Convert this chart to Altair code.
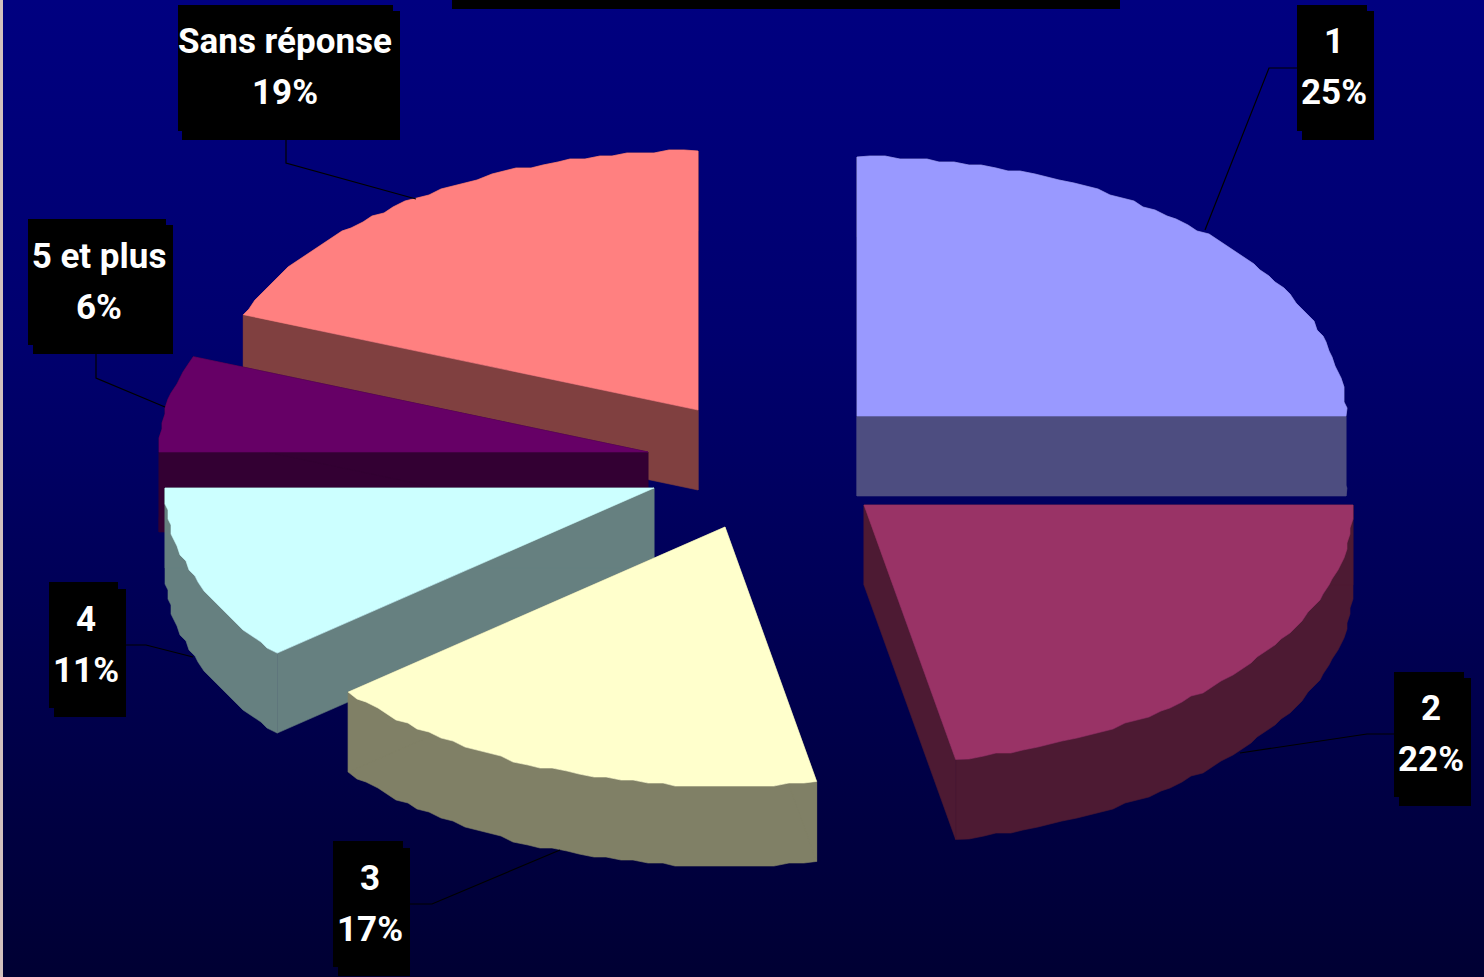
import math
import altair as alt
import pandas as pd

# Survey answers and their shares, in pie order (clockwise from the top)
categories = ["1", "2", "3", "4", "5 et plus", "Sans réponse"]
shares = [25, 22, 17, 11, 6, 19]

top_colors = ["#9999FF", "#993366", "#FFFFCC", "#CCFFFF", "#660066", "#FF8080"]
side_colors = ["#4D4D80", "#4D1A33", "#808066", "#668080", "#330033", "#804040"]

# Exploded position of each wedge's tip on the page
wedge_tips = [(857, 416), (864, 505), (725, 527), (654, 488), (648, 452), (698, 410)]
draw_order = [5, 4, 3, 2, 0, 1]

RX, RY, DEPTH = 489, 259, 80
RIM_STEP = 3  # the rim is snapped to a small grid, which gives it a scalloped edge

# Callout boxes: front box and offset backing box
label_boxes = [
    ((1297, 5, 1367, 131), (1302, 11, 1374, 140)),
    ((1394, 672, 1464, 797), (1399, 678, 1471, 806)),
    ((333, 841, 403, 967), (338, 848, 410, 976)),
    ((49, 582, 118, 708), (54, 589, 126, 717)),
    ((28, 219, 166, 345), (33, 225, 173, 354)),
    ((178, 5, 393, 131), (182, 11, 400, 140)),
]
label_centers = [(1334, 53), (1431, 720), (370, 890), (86, 631), (99, 268), (285, 53)]
LINE_GAP = 51
leaders = [
    [(1297, 68), (1269, 68), (1205, 230)],
    [(1394, 734), (1367, 734), (1240, 753)],
    [(410, 904), (432, 904), (560, 850)],
    [(126, 645), (146, 645), (193, 657)],
    [(96, 354), (96, 378), (165, 407)],
    [(286, 140), (286, 163), (416, 199)],
]

W, H = 1484, 977
x_scale = alt.Scale(domain=[0, W], nice=False, zero=False)
y_scale = alt.Scale(domain=[H, 0], nice=False, zero=False)
X = alt.X("x:Q", scale=x_scale, axis=None)
Y = alt.Y("y:Q", scale=y_scale, axis=None)


def rect_layer(box, fill):
    x0, y0, x1, y1 = box
    df = pd.DataFrame([{"x": x0, "x2": x1, "y": y0, "y2": y1}])
    return alt.Chart(df).mark_rect(fill=fill).encode(x=X, x2="x2:Q", y=Y, y2="y2:Q")


def polygon_layer(points, fill):
    df = pd.DataFrame(
        [{"x": px, "y": py, "i": i} for i, (px, py) in enumerate(points + points[:1])]
    )
    return (
        alt.Chart(df)
        .mark_line(color=fill, fill=fill, strokeWidth=0.6, interpolate="linear")
        .encode(x=X, y=Y, order="i:Q")
    )


def rim_points(tip, start, end):
    tx, ty = tip
    n = max(4, int((end - start) * 220))
    pts = []
    for k in range(n + 1):
        t = start + (end - start) * k / n
        a = 2 * math.pi * t
        px = tx + RX * math.sin(a)
        py = ty - RY * math.cos(a)
        if 0 < k < n:
            px = round(px / RIM_STEP) * RIM_STEP
            py = round(py / RIM_STEP) * RIM_STEP
        pts.append((px, py))
    return pts


# Page background, stray margin strip and the bar along the top edge
background = pd.DataFrame([{"x": 0, "x2": W, "y": 0, "y2": H}])
layers = [
    alt.Chart(background)
    .mark_rect(
        fill={
            "gradient": "linear",
            "x1": 0,
            "y1": 0,
            "x2": 0,
            "y2": 1,
            "stops": [
                {"offset": 0, "color": "#000080"},
                {"offset": 0.35, "color": "#00006E"},
                {"offset": 1, "color": "#000033"},
            ],
        }
    )
    .encode(x=X, x2="x2:Q", y=Y, y2="y2:Q"),
    rect_layer((0, 0, 3, H), "#D2C0BE"),
    rect_layer((452, 0, 1120, 9), "#000000"),
]

# Wedge angles accumulate from the shares
starts = [sum(shares[:i]) / 100 for i in range(len(shares))]
ends = [sum(shares[: i + 1]) / 100 for i in range(len(shares))]

for idx in draw_order:
    tip = wedge_tips[idx]
    rim = rim_points(tip, starts[idx], ends[idx])
    low = lambda p: (p[0], p[1] + DEPTH)
    side = side_colors[idx]
    layers.append(polygon_layer(rim + [low(p) for p in reversed(rim)], side))
    layers.append(polygon_layer([tip, rim[0], low(rim[0]), low(tip)], side))
    layers.append(polygon_layer([tip, rim[-1], low(rim[-1]), low(tip)], side))
    layers.append(polygon_layer([tip] + rim, top_colors[idx]))

# Leader lines, then callout boxes and their two-line text
for path in leaders:
    df = pd.DataFrame([{"x": px, "y": py, "i": i} for i, (px, py) in enumerate(path)])
    layers.append(
        alt.Chart(df).mark_line(color="#000000", strokeWidth=1.2).encode(x=X, y=Y, order="i:Q")
    )

for (front, back) in label_boxes:
    layers.append(rect_layer(back, "#000000"))
    layers.append(rect_layer(front, "#000000"))

text_rows = []
for name, share, (cx, cy) in zip(categories, shares, label_centers):
    text_rows.append({"x": cx, "y": cy, "t": name})
    text_rows.append({"x": cx, "y": cy + LINE_GAP, "t": f"{share}%"})
layers.append(
    alt.Chart(pd.DataFrame(text_rows))
    .mark_text(
        font="Roboto",
        fontWeight="bold",
        fontSize=35,
        color="#FFFFFF",
        align="center",
        baseline="alphabetic",
    )
    .encode(x=X, y=Y, text="t:N")
)

chart = (
    alt.layer(*layers)
    .properties(width=W, height=H, padding=0, autosize=alt.AutoSizeParams(type="none"), background="#000080")
    .configure_view(stroke=None)
)
chart.save("out.html", embed_options={"renderer": "svg", "actions": False})
